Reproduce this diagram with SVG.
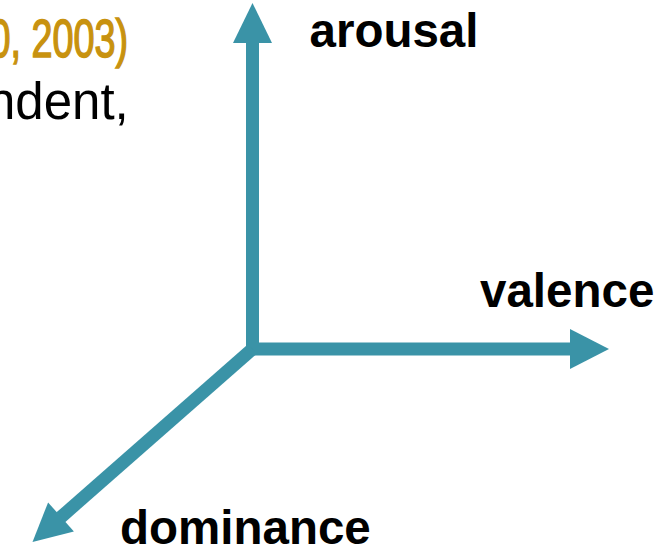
<svg xmlns="http://www.w3.org/2000/svg" width="669" height="549" viewBox="0 0 669 549">
<style>
.ax{stroke:#3A93A7;stroke-width:13;fill:none;stroke-linecap:butt}
.hd{fill:#3A93A7;stroke:none}
.lbl{font-family:"Liberation Sans",Arial,sans-serif;font-weight:bold;font-size:47.5px;fill:#000}
.body{font-family:"Liberation Sans",Arial,sans-serif;font-size:51px;fill:#000}
.cite{font-family:"Liberation Sans",Arial,sans-serif;font-size:54px;fill:#C8920F}
</style>
<rect width="669" height="549" fill="#fff"/>
<g id="background-text">
<text class="cite" transform="translate(-10.6,57) scale(0.7,1)" x="0" y="0" stroke="#C8920F" stroke-width="1.6">0, 2003)</text>
<text class="body" x="-13" y="119">ndent,</text>
</g>
<g id="connectors">
<line class="ax" x1="252.5" y1="355" x2="252.5" y2="42"/>
<polygon class="hd" points="233,43 272,43 252.5,3"/>
<line class="ax" x1="246" y1="349" x2="571" y2="349"/>
<polygon class="hd" points="570,329 570,369 609,349"/>
<line class="ax" x1="252.5" y1="349" x2="60.5" y2="517.5"/>
<polygon class="hd" points="48.1,502.4 73.9,531.6 32.5,542"/>
</g>
<g id="arousal"><text class="lbl" x="309.5" y="47">arousal</text></g>
<g id="valence"><text class="lbl" x="480" y="307">valence</text></g>
<g id="dominance"><text class="lbl" x="120" y="544">dominance</text></g>
</svg>
